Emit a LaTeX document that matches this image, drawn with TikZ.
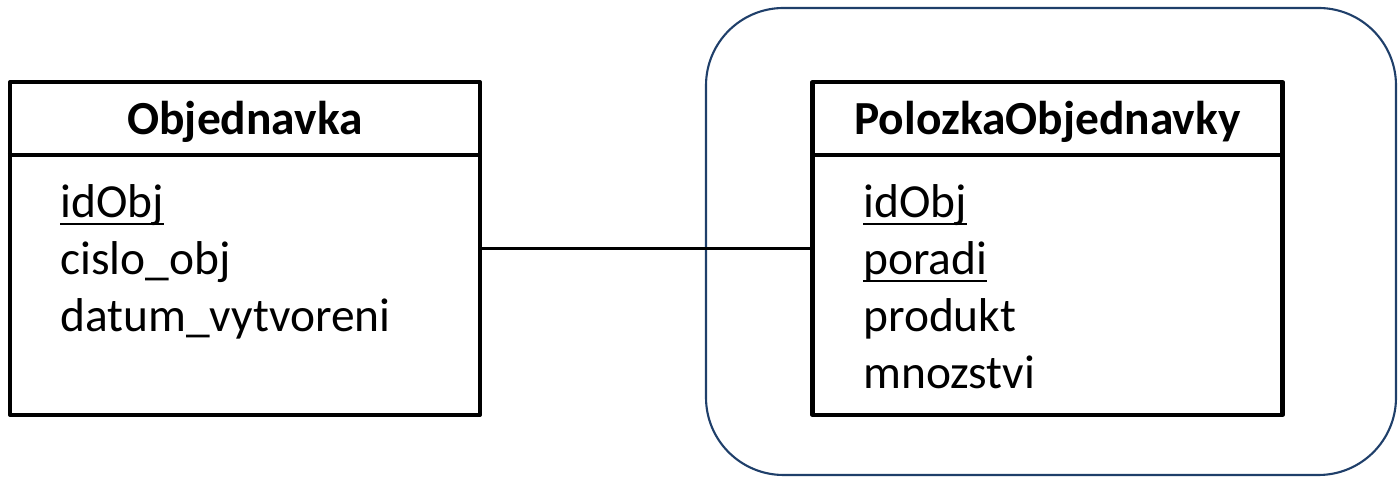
\documentclass[tikz,border=0pt]{standalone}
\usepackage{fontspec}
\setmainfont{Carlito}
\usetikzlibrary{positioning}
\definecolor{skupina}{HTML}{1F3F6A}
% podtrzeny klic, cara prochazi pres dolni dotahy
\newcommand\klic[1]{\setbox0\hbox{#1}\rlap{\rule[-0.14cm]{\wd0}{0.045cm}}\box0}

\begin{document}
\begin{tikzpicture}[line join=round,line cap=round,font=\fontsize{27}{32}\selectfont,
	entita/.style={draw,line width=2.3pt,minimum width=9.4cm,minimum height=6.66cm,inner sep=0pt},
	hlava/.style={anchor=base,inner sep=0pt,font=\fontsize{27}{32}\selectfont\bfseries},
	atr/.style={anchor=base west,inner sep=0pt}]
	\useasboundingbox (0,0) rectangle (27.96,9.54);
	% skupina kolem slabe entity
	\draw[skupina,line width=1.2pt,rounded corners=1.55cm] (14.12,0.04) rectangle (27.92,9.38);
	\node[entita] (obj) at (4.9,4.57) {};
	\node[entita] (pol) at (20.95,4.57) {};
	\draw[line width=2.3pt,line cap=butt] ([yshift=-1.5cm]obj.north west) -- ([yshift=-1.5cm]obj.north east);
	\draw[line width=2.3pt,line cap=butt] ([yshift=-1.5cm]pol.north west) -- ([yshift=-1.5cm]pol.north east);
	\node[hlava] (objn) at (4.9,6.84) {Objednavka};
	\node[hlava] (poln) at (20.95,6.84) {PolozkaObjednavky};
	\foreach \t/\j [count=\i] in {\klic{idObj}/o1,cislo\_obj/o2,datum\_vytvoreni/o3}
		\node[atr] (\j) at (1.2,{5.18-1.14*(\i-1)}) {\t};
	\foreach \t/\j [count=\i] in {\klic{idObj}/p1,\klic{poradi}/p2,produkt/p3,mnozstvi/p4}
		\node[atr] (\j) at (17.26,{5.18-1.14*(\i-1)}) {\t};
	\draw[line width=1.7pt] (obj.east) -- (pol.west);
\end{tikzpicture}
\end{document}
